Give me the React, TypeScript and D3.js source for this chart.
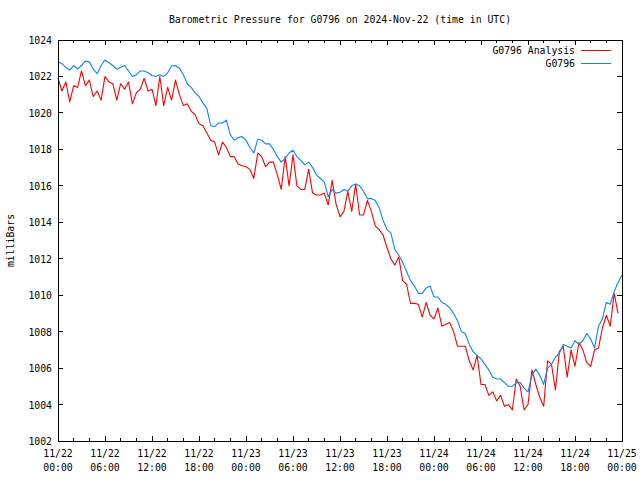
import React from 'react';
import * as d3 from 'd3';

const START = Date.UTC(2024, 10, 22, 0, 0);
const STEP_HOURS = 0.5;
const TOTAL_HOURS = 72;

const titleText = 'Barometric Pressure for G0796 on 2024-Nov-22 (time in UTC)';
const yAxisLabel = 'milliBars';
const seriesNames = ['G0796 Analysis', 'G0796'];
const seriesColors = ['#ff0000', '#0a84ff'];

// G0796 Analysis, every 30 minutes from 11/22 00:00
const analysisValues = [
  1021.9, 1021.2, 1021.7, 1020.6, 1021.5, 1021.4, 1022.3, 1021.5, 1021.8, 1020.9,
  1021.2, 1020.7, 1022.0, 1021.7, 1021.6, 1020.7, 1021.6, 1021.3, 1021.7, 1020.5,
  1021.1, 1021.3, 1021.9, 1021.2, 1021.3, 1020.4, 1022.0, 1020.4, 1021.4, 1020.7,
  1021.8, 1021.0, 1020.4, 1020.5, 1020.1, 1019.9, 1019.4, 1019.3, 1018.9, 1018.5,
  1018.4, 1017.7, 1018.4, 1018.1, 1017.6, 1017.6, 1017.2, 1017.1, 1017.05, 1016.9,
  1016.4, 1017.8, 1017.6, 1017.05, 1017.3, 1017.3, 1016.6, 1015.8, 1017.6, 1016.0,
  1017.7, 1016.0, 1015.8, 1015.8, 1016.9, 1015.6, 1015.5, 1015.5, 1015.6, 1014.95,
  1016.3, 1015.0, 1014.3, 1014.6, 1015.7, 1014.6, 1016.1, 1014.4, 1014.4, 1015.2,
  1014.6, 1013.8, 1013.6, 1013.3, 1012.6, 1012.0, 1011.65, 1012.1, 1010.8, 1010.6,
  1009.55, 1009.55, 1009.5, 1008.8, 1009.6, 1008.9, 1008.7, 1009.3, 1008.3, 1008.4,
  1008.5, 1008.0, 1007.2, 1007.2, 1007.2, 1006.4, 1005.9, 1006.7, 1005.1, 1005.1,
  1004.5, 1004.7, 1004.2, 1004.5, 1003.9, 1004.0, 1003.7, 1005.4, 1005.0, 1003.7,
  1004.0, 1005.9, 1005.1, 1004.4, 1003.9, 1006.4, 1006.2, 1004.8, 1006.9, 1007.2,
  1005.5, 1007.0, 1006.1, 1007.4, 1007.0, 1006.3, 1006.1, 1007.0, 1007.1, 1008.2,
  1008.9, 1008.3, 1010.1, 1009.0,
];

// G0796 observations, every 30 minutes from 11/22 00:00
const stationValues = [
  1022.8, 1022.7, 1022.5, 1022.35, 1022.6, 1022.4, 1022.6, 1022.85, 1022.8, 1022.4,
  1022.15, 1022.6, 1022.9, 1022.75, 1022.6, 1022.4, 1022.5, 1022.6, 1022.3, 1022.0,
  1022.1, 1022.3, 1022.3, 1022.2, 1022.05, 1022.0, 1022.1, 1022.0, 1022.2, 1022.57,
  1022.6, 1022.45, 1022.1, 1021.6, 1021.4, 1021.1, 1020.9, 1020.55, 1020.25, 1019.3,
  1019.25, 1019.45, 1019.45, 1019.6, 1018.8, 1018.5, 1018.65, 1018.7, 1018.5, 1018.1,
  1017.8, 1018.55, 1018.5, 1018.3, 1018.3, 1018.0, 1017.6, 1017.3, 1017.5, 1017.8,
  1017.95, 1017.6, 1017.4, 1017.15, 1017.3, 1017.0, 1016.6, 1016.4, 1016.2, 1015.4,
  1015.8, 1015.6, 1015.65, 1015.8, 1015.7, 1016.0, 1016.1, 1016.0, 1015.7, 1015.3,
  1015.3, 1015.2, 1014.8, 1014.1, 1013.6, 1013.4, 1012.5, 1012.2, 1011.8, 1011.3,
  1010.8, 1010.5, 1010.1, 1010.1, 1010.4, 1010.5, 1009.9, 1009.9, 1009.6, 1009.5,
  1009.3, 1009.0, 1008.6, 1008.0, 1007.9, 1007.3, 1006.9, 1006.7, 1006.5, 1006.2,
  1005.9, 1005.5, 1005.4, 1005.4, 1005.2, 1005.0, 1005.0, 1005.2, 1005.2, 1004.9,
  1004.7, 1005.6, 1005.95, 1005.6, 1005.1, 1006.0, 1006.2, 1006.6, 1006.8, 1007.3,
  1007.2, 1007.1, 1007.5, 1007.3, 1007.5, 1007.9, 1007.6, 1007.1, 1008.3, 1008.7,
  1009.6, 1009.5, 1010.2, 1010.7, 1011.1,
];

const yTicks = [1002, 1004, 1006, 1008, 1010, 1012, 1014, 1016, 1018, 1020, 1022, 1024];
const xMajorHours = [0, 6, 12, 18, 24, 30, 36, 42, 48, 54, 60, 66, 72];
const xMinorHours = d3.range(0, TOTAL_HOURS + 1, 2).filter((h) => h % 6 !== 0);

const FONT = "'DejaVu Sans Mono', 'Liberation Mono', monospace";

export default function App() {
  const W = 640;
  const H = 480;
  const L = 58;
  const R = 622;
  const T = 40;
  const B = 441;

  const toDate = (h: number) => new Date(START + h * 3600e3);
  const x = d3.scaleUtc().domain([toDate(0), toDate(TOTAL_HOURS)]).range([L, R]);
  const y = d3.scaleLinear().domain([1002, 1024]).range([B, T]);

  const line = d3
    .line<number>()
    .x((_, i) => x(toDate(i * STEP_HOURS)))
    .y((d) => y(d));

  const fmtDay = d3.utcFormat('%m/%d');
  const fmtTime = d3.utcFormat('%H:%M');
  const series = [analysisValues, stationValues];

  const majorLen = 5;
  const minorLen = 3;

  return (
    <svg
      width={W}
      height={H}
      style={{ position: 'absolute', left: 0, top: 0, background: '#fff' }}
      fontFamily={FONT}
      fontSize={9.8}
    >
      <rect x={0} y={0} width={W} height={H} fill="#fff" />
      <text x={340} y={23} textAnchor="middle" fill="#000">
        {titleText}
      </text>
      <text
        transform={`translate(14, ${(T + B) / 2}) rotate(-90)`}
        textAnchor="middle"
        fill="#000"
      >
        {yAxisLabel}
      </text>

      <g shapeRendering="crispEdges" stroke="#000" strokeWidth={1}>
        {yTicks.map((v) => (
          <g key={'yt' + v}>
            <line x1={L} x2={L + majorLen} y1={y(v)} y2={y(v)} />
            <line x1={R} x2={R - majorLen} y1={y(v)} y2={y(v)} />
          </g>
        ))}
        {xMajorHours.map((h) => (
          <g key={'xt' + h}>
            <line x1={x(toDate(h))} x2={x(toDate(h))} y1={B} y2={B - majorLen} />
            <line x1={x(toDate(h))} x2={x(toDate(h))} y1={T} y2={T + majorLen} />
          </g>
        ))}
        {xMinorHours.map((h) => (
          <g key={'xm' + h}>
            <line x1={x(toDate(h))} x2={x(toDate(h))} y1={B} y2={B - minorLen} />
            <line x1={x(toDate(h))} x2={x(toDate(h))} y1={T} y2={T + minorLen} />
          </g>
        ))}
      </g>

      {yTicks.map((v) => (
        <text key={'yl' + v} x={L - 6} y={y(v) + 4} textAnchor="end" fill="#000">
          {v}
        </text>
      ))}
      {xMajorHours.map((h) => (
        <g key={'xl' + h}>
          <text x={x(toDate(h))} y={457} textAnchor="middle" fill="#000">
            {fmtDay(toDate(h))}
          </text>
          <text x={x(toDate(h))} y={471} textAnchor="middle" fill="#000">
            {fmtTime(toDate(h))}
          </text>
        </g>
      ))}

      {series.map((vals, i) => (
        <path
          key={'s' + i}
          d={line(vals) ?? ''}
          fill="none"
          stroke={seriesColors[i]}
          strokeWidth={1.1}
          strokeLinejoin="round"
        />
      ))}

      {seriesNames.map((name, i) => (
        <g key={'lg' + i}>
          <text x={575} y={54 + i * 13} textAnchor="end" fill="#000">
            {name}
          </text>
          <line
            x1={581}
            x2={611}
            y1={50.5 + i * 13}
            y2={50.5 + i * 13}
            stroke={seriesColors[i]}
            strokeWidth={1}
            shapeRendering="crispEdges"
          />
        </g>
      ))}

      <rect
        x={L}
        y={T}
        width={R - L}
        height={B - T}
        fill="none"
        stroke="#000"
        strokeWidth={1}
        shapeRendering="crispEdges"
      />
    </svg>
  );
}
